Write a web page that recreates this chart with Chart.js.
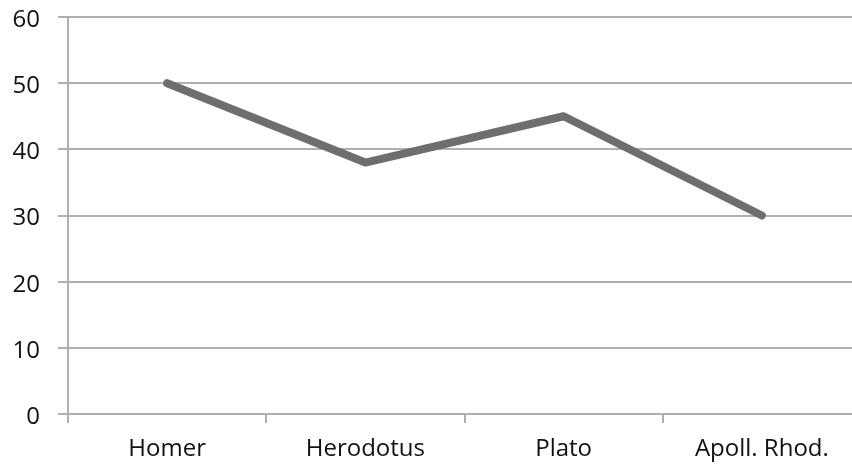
<!DOCTYPE html>
<html>
<head>
<meta charset="utf-8">
<script src="https://cdn.jsdelivr.net/npm/chart.js@4/dist/chart.umd.min.js"></script>
<style>
  html, body { margin: 0; padding: 0; background: #fff; overflow: hidden; }
  #wrap { width: 880px; height: 470px; }
</style>
</head>
<body>
<div id="wrap"><canvas id="chart" width="880" height="470"></canvas></div>
<script>
// chart data
const authors = ["Homer", "Herodotus", "Plato", "Apoll. Rhod."];
const values = [50, 38, 45, 30];
const yTicks = [0, 10, 20, 30, 40, 50, 60];

const gridColor = "#b0b0b0";
const font = { family: "Open Sans", size: 24 };

const ctx = document.getElementById("chart").getContext("2d");

new Chart(ctx, {
  type: "line",
  data: {
    labels: authors,
    datasets: [{
      data: values,
      borderColor: "#6e6e6e",
      borderWidth: 8,
      borderCapStyle: "round",
      borderJoinStyle: "round",
      pointRadius: 0,
      tension: 0,
      fill: false
    }]
  },
  options: {
    responsive: false,
    animation: false,
    layout: { padding: { top: 17, right: 19, left: 0, bottom: 0 } },
    plugins: { legend: { display: false }, tooltip: { enabled: false } },
    scales: {
      x: {
        offset: true,
        grid: { offset: true, drawOnChartArea: false, drawTicks: true, tickLength: 9, color: gridColor, lineWidth: 2 },
        border: { color: gridColor, width: 2 },
        ticks: { color: "#111", font: font, padding: 12, maxRotation: 0 },
        afterFit: (s) => { s.height = 56; s.paddingLeft = 0; s.paddingRight = 0; }
      },
      y: {
        min: yTicks[0],
        max: yTicks[yTicks.length - 1],
        afterBuildTicks: (s) => { s.ticks = yTicks.map(v => ({ value: v })); },
        grid: { color: gridColor, lineWidth: 2, tickLength: 10 },
        border: { color: gridColor, width: 2 },
        ticks: { color: "#111", font: font, padding: 18, labelOffset: 3 },
        afterFit: (s) => { s.width = 68; s.paddingTop = 0; s.paddingBottom = 0; }
      }
    }
  }
});
</script>
</body>
</html>
